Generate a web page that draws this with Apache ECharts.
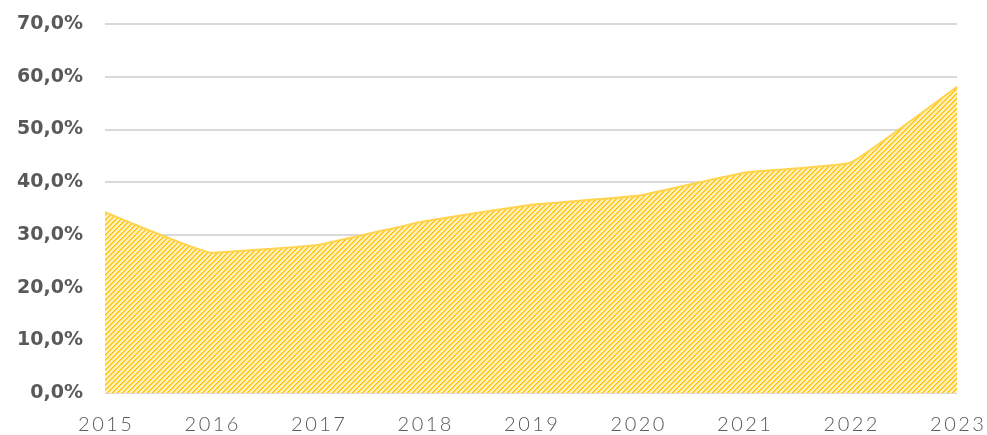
<!DOCTYPE html>
<html>
<head>
<meta charset="utf-8">
<script src="https://cdn.jsdelivr.net/npm/echarts@6/dist/echarts.min.js"></script>
<style>
  html, body { margin: 0; padding: 0; background: #fff; }
  #chart { width: 987px; height: 435px; }
</style>
</head>
<body>
<div id="chart"></div>
<script>
// 年份和比例数据
var years = ['2015', '2016', '2017', '2018', '2019', '2020', '2021', '2022', '2023'];
var shares = [34.3, 26.6, 28.1, 32.6, 35.7, 37.4, 41.8, 43.7, 58.1];
var yTicks = [0, 10, 20, 30, 40, 50, 60, 70];

// 斜线填充图案（/ 方向）
function hatch() {
  var size = 5;
  var c = document.createElement('canvas');
  c.width = size;
  c.height = size;
  var ctx = c.getContext('2d');
  ctx.fillStyle = '#FFEFB8';
  ctx.fillRect(0, 0, size, size);
  for (var i = 0; i < size; i++) {
    var y = size - 1 - i;
    ctx.fillStyle = '#FFC000';
    ctx.fillRect(i, y, 1, 1);
    ctx.fillStyle = '#FFD24A';
    ctx.fillRect((i + 1) % size, y, 1, 1);
  }
  return c;
}

var chart = echarts.init(document.getElementById('chart'));
var option = {
  animation: false,
  grid: { left: 105, right: 30, top: 24, bottom: 42, containLabel: false },
  xAxis: {
    type: 'category',
    data: years,
    boundaryGap: false,
    axisLine: { show: false },
    axisTick: { show: false },
    axisLabel: {
      color: '#595959',
      fontFamily: 'Lato',
      fontWeight: 300,
      fontSize: 20,
      margin: 22,
      formatter: function (v) { return v.split('').join('\u2009'); }
    }
  },
  yAxis: {
    type: 'value',
    min: 0,
    max: 70,
    interval: 10,
    axisLine: { show: false },
    axisTick: { show: false },
    splitLine: { lineStyle: { color: '#D9D9D9', width: 2 } },
    axisLabel: {
      color: '#595959',
      fontFamily: 'DejaVu Sans',
      fontWeight: 'bold',
      fontSize: 19,
      margin: 22,
      formatter: function (v) { return v.toFixed(1).replace('.', ',') + '%'; }
    }
  },
  series: [
    {
      type: 'line',
      data: shares,
      symbol: 'none',
      smooth: 0.08,
      lineStyle: { color: '#FFD34D', width: 2 },
      areaStyle: { color: { image: hatch(), repeat: 'repeat' }, opacity: 1 }
    }
  ]
};
chart.setOption(option);
</script>
</body>
</html>
